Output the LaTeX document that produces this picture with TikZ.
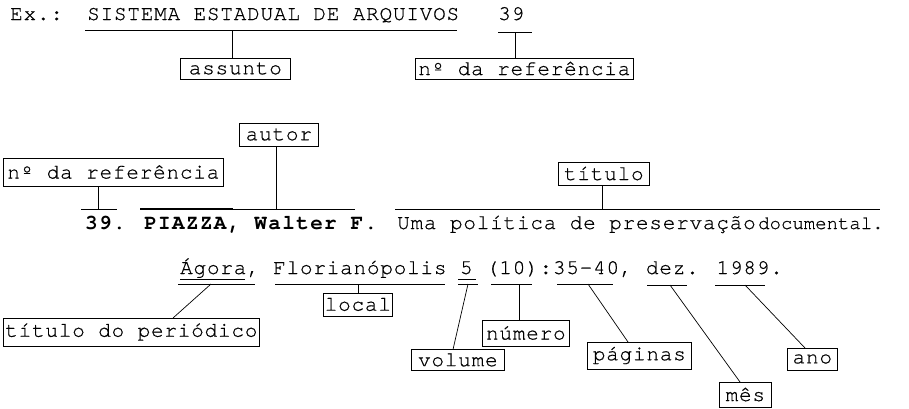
\documentclass[tikz,border=0pt]{standalone}
\usepackage{fontspec}
\newfontfamily\tw[LetterSpace=3.8,FakeBold=0.6]{TeX Gyre Cursor}
\newfontfamily\twb[LetterSpace=6.4]{TeX Gyre Cursor}
\newfontfamily\twn[FakeBold=0.6]{TeX Gyre Cursor}
\usetikzlibrary{calc}
\begin{document}
\begin{tikzpicture}[x=1pt,y=-1pt,
  txt/.style={anchor=base west, inner sep=0pt, font=\tw\fontsize{21}{24}\selectfont},
  lab/.style={draw, line width=0.7pt, inner sep=0pt, anchor=west, font=\tw\fontsize{21}{24}\selectfont},
  ul/.style={line width=0.8pt},
  con/.style={line width=0.7pt}]
\useasboundingbox (0,0) rectangle (909,408);
% ---- line 1
\node[txt] (ex) at (10,20) {Ex.:};
\node[txt] (sis) at (87,20) {SISTEMA ESTADUAL DE ARQUIVOS};
\node[txt] (n39a) at (498,20) {39};
\coordinate (sisL) at (85,30); \coordinate (sisR) at (457,30); \coordinate (sisC) at (232,30);
\coordinate (nL) at (498,32); \coordinate (nR) at (532,32); \coordinate (nC) at (515,32);
\draw[ul] (sisL) -- (sisR);
\draw[ul] (nL) -- (nR);
\node[lab, minimum width=110pt, minimum height=21pt] (assunto) at (180,68.5) {assunto};
\node[lab, minimum width=218pt, minimum height=21pt] (ref1) at (415,68.5) {nº da referência};
\draw[con] (sisC) -- (sisC |- assunto.north);
\draw[con] (nC) -- (nC |- ref1.north);
% ---- line 2
\node[lab, minimum width=79pt, minimum height=23pt] (autor) at (239,134.5) {autor};
\node[lab, minimum width=220pt, minimum height=28pt] (ref2) at (3,172) {nº da referência};
\node[lab, minimum width=91pt, minimum height=23pt] (titulo) at (558,173.5) {título};
\coordinate (r2L) at (81,209); \coordinate (r2R) at (117,209); \coordinate (r2C) at (98,209);
\coordinate (auL) at (140,209); \coordinate (auM) at (233,209); \coordinate (auR) at (355,209); \coordinate (auC) at (276,209);
\coordinate (tiL) at (395,209); \coordinate (tiR) at (880,209); \coordinate (tiC) at (602,209);
\draw[ul] (r2L) -- (r2R);
\draw[ul] (auL) -- (auR);
\draw[line width=1.6pt] (auL) -- (auM);
\draw[ul] (tiL) -- (tiR);
\draw[con] (ref2.south -| r2C) -- (r2C);
\draw[con] (autor.south -| auC) -- (auC);
\draw[con] (titulo.south -| tiC) -- (tiC);
\node[txt, font=\twb\bfseries\fontsize{21}{24}\selectfont] (aut) at (85,229) {39. PIAZZA, Walter F.};
\node[txt] (tit) at (397,229) {Uma política de preservação};
\node[txt, font=\twn\fontsize{19}{22}\selectfont] (doc) at (758,229) {documental.};
% ---- line 3
\node[txt] (per) at (180,274) {Ágora, Florianópolis 5 (10):35-40, dez. 1989.};
\draw[ul] (180,279.5) -- (245,279.5);
\draw[ul] (458,279.5) -- (476,279.5);
\coordinate (agL) at (178,284); \coordinate (agR) at (255,284); \coordinate (agC) at (211,284);
\coordinate (flL) at (275,284); \coordinate (flR) at (445,284); \coordinate (flC) at (358,284);
\coordinate (voL) at (458,284); \coordinate (voR) at (478,284); \coordinate (voC) at (468,284);
\coordinate (nuL) at (491,284); \coordinate (nuR) at (532,284); \coordinate (nuC) at (519,284);
\coordinate (pgL) at (557,284); \coordinate (pgR) at (613,284); \coordinate (pgC) at (588,284);
\coordinate (meL) at (647,285); \coordinate (meR) at (687,285); \coordinate (meC) at (670,285);
\coordinate (anL) at (715,285); \coordinate (anR) at (765,285); \coordinate (anC) at (745,285);
\foreach \p in {ag,fl,vo,nu,pg,me,an} { \draw[ul] (\p L) -- (\p R); }
\node[lab, minimum width=256pt, minimum height=28pt] (tper) at (3,332) {título do periódico};
\node[lab, minimum width=69pt, minimum height=23pt] (local) at (323,304.5) {local};
\node[lab, minimum width=93pt, minimum height=21pt] (volume) at (411,360) {volume};
\node[lab, minimum width=87pt, minimum height=26pt] (numero) at (482,333) {número};
\node[lab, minimum width=104pt, minimum height=27pt] (paginas) at (587,355.5) {páginas};
\node[lab, minimum width=52pt, minimum height=25pt] (mes) at (719,394.5) {mês};
\node[lab, minimum width=50pt, minimum height=22pt] (ano) at (787,359) {ano};
\coordinate (tperT) at (173,318);
\coordinate (volT) at (453,349.5);
\coordinate (pagT) at (628,342);
\coordinate (mesT) at (740,382);
\coordinate (anoT) at (805,348);
\draw[con] (agC) -- (tperT);
\draw[con] (flC) -- (flC |- local.north);
\draw[con] (voC) -- (volT);
\draw[con] (nuC) -- (nuC |- numero.north);
\draw[con] (pgC) -- (pagT);
\draw[con] (meC) -- (mesT);
\draw[con] (anC) -- (anoT);
\end{tikzpicture}
\end{document}
